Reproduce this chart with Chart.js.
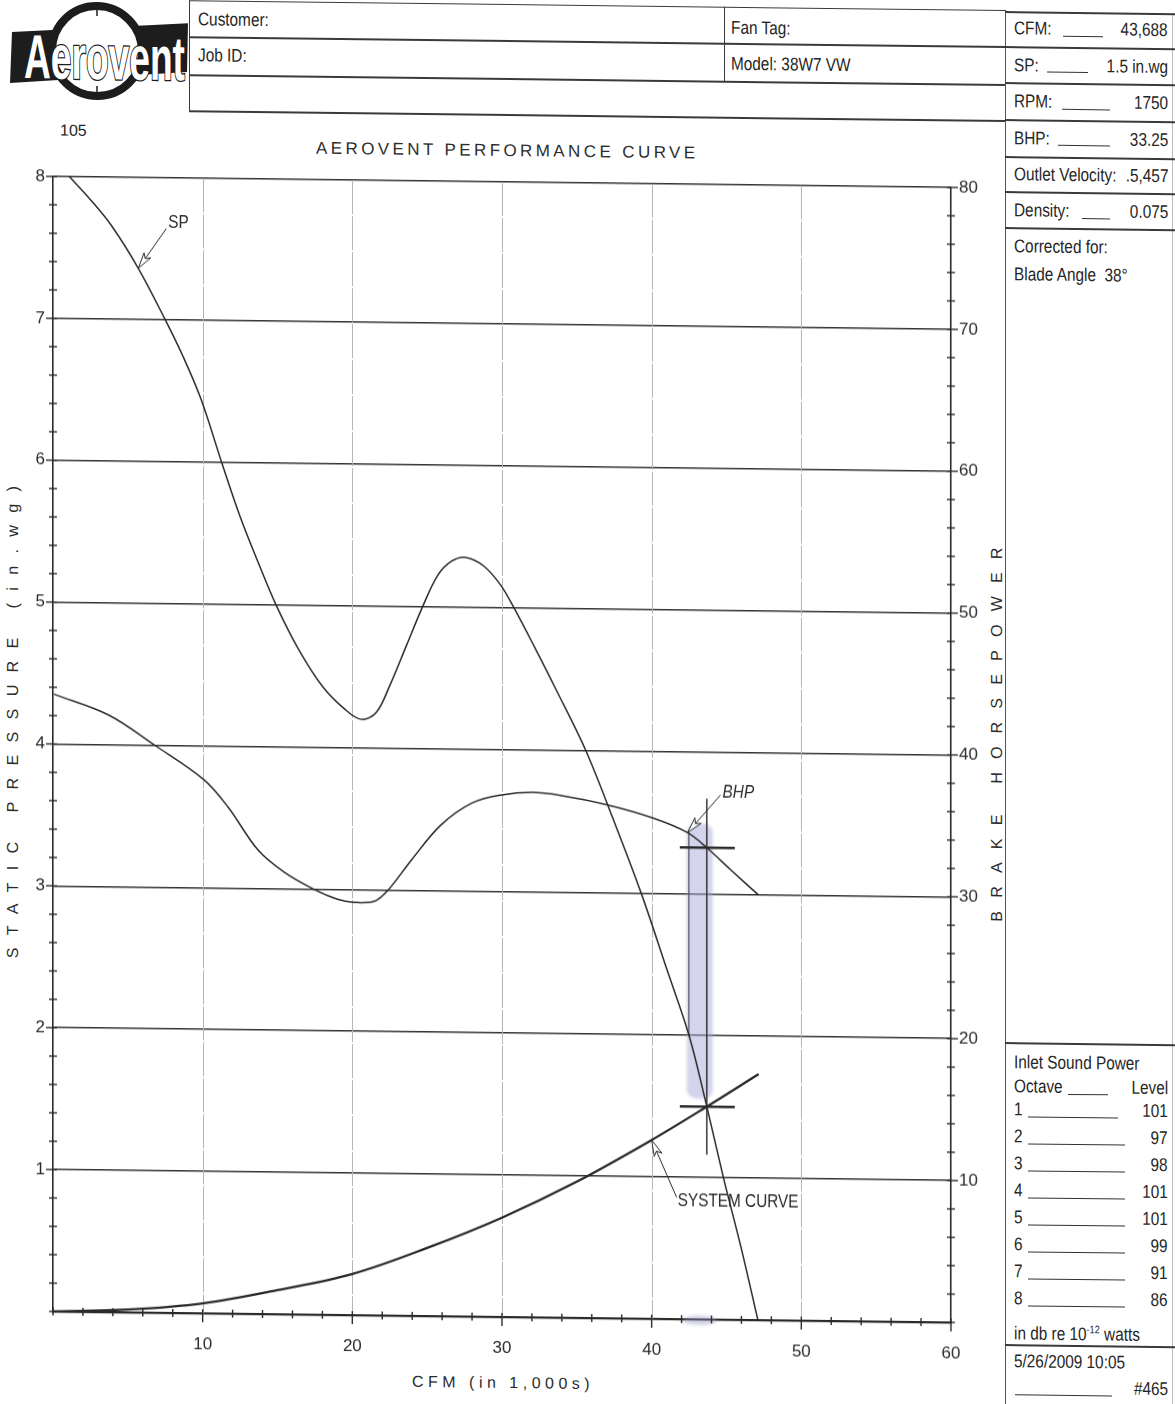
<!DOCTYPE html>
<html>
<head>
<meta charset="utf-8">
<title>Aerovent Performance Curve</title>
<script src="https://cdn.jsdelivr.net/npm/chart.js@4.4.0/dist/chart.umd.min.js"></script>
<style>
  html, body { margin: 0; padding: 0; background: #fff; }
  body {
    width: 1175px; height: 1404px; position: relative; overflow: hidden;
    font-family: "Liberation Sans", Arial, sans-serif;
    color: #262626;
  }
  /* the printed sheet sits slightly askew */
  #sheet {
    position: absolute; left: 0; top: 0; width: 1175px; height: 1404px;
    transform: skewY(0.7deg); transform-origin: 587px 0;
  }
  .ln { position: absolute; background: #3a3a3a; }
  .ul { position: absolute; height: 1.3px; background: #333; }
  /* condensed face: the sans is squeezed horizontally */
  .t {
    position: absolute; white-space: nowrap; font-size: 18.5px; line-height: 22px;
    transform: scaleX(0.83); transform-origin: 0 50%;
  }
  .t.r { transform-origin: 100% 50%; }
  #perf { position: absolute; left: 0; top: 161px; }
  .wide { position: absolute; white-space: nowrap; line-height: 22px; color: #2c2c2c; }
  .vtitle {
    position: absolute; white-space: nowrap; font-size: 16px; line-height: 18px; color: #2c2c2c;
    transform: translate(-50%, -50%) rotate(-90deg);
  }
</style>
</head>
<body>
<div id="sheet">

<!-- company mark -->
<svg width="192" height="110" style="position:absolute;left:0;top:6px">
  <polygon points="12,33 188,22 187,71 10,84" fill="#1d1d1d"/>
  <circle cx="97" cy="51" r="45" fill="#fff" stroke="#1d1d1d" stroke-width="8"/>
  <line x1="97" y1="4" x2="97" y2="16" stroke="#1d1d1d" stroke-width="1.5"/>
  <line x1="97" y1="86" x2="97" y2="98" stroke="#1d1d1d" stroke-width="1.5"/>
  <text x="24" y="79" textLength="161" lengthAdjust="spacingAndGlyphs"
        font-family="Liberation Sans, Arial, sans-serif"
        font-weight="bold" font-size="62" fill="#fff" stroke="#1d1d1d" stroke-width="2.6"
        paint-order="stroke">Aerovent</text>
</svg>
<div class="wide" style="left:60px;top:126px;font-size:16px;color:#262626;">105</div>

<!-- job header table -->
<div class="ln" style="left:189px;top:5px;width:817px;height:1.4px"></div>
<div class="ln" style="left:189px;top:41px;width:817px;height:1.6px"></div>
<div class="ln" style="left:189px;top:79px;width:817px;height:1.6px"></div>
<div class="ln" style="left:189px;top:115px;width:817px;height:1.6px"></div>
<div class="ln" style="left:189px;top:5px;width:1.4px;height:111px"></div>
<div class="ln" style="left:724px;top:5px;width:1.4px;height:75px"></div>
<div class="t" style="left:198px;top:13px;">Customer:</div>
<div class="t" style="left:198px;top:49px;">Job ID:</div>
<div class="t" style="left:731px;top:15px;">Fan Tag:</div>
<div class="t" style="left:731px;top:51px;">Model: 38W7 VW</div>

<!-- rating panel -->
<div class="ln" style="left:1005px;top:6px;width:1.4px;height:1410px;background:#555"></div>
<div class="ln" style="left:1172px;top:6px;width:1px;height:1410px;background:#bbb"></div>
<div class="ln" style="left:1005px;top:6px;width:170px;height:1.5px"></div>
<div class="ln" style="left:1005px;top:41px;width:170px;height:1.6px"></div>
<div class="ln" style="left:1005px;top:77px;width:170px;height:1.6px"></div>
<div class="ln" style="left:1005px;top:114px;width:170px;height:1.6px"></div>
<div class="ln" style="left:1005px;top:151px;width:170px;height:1.6px"></div>
<div class="ln" style="left:1005px;top:186px;width:170px;height:1.6px"></div>
<div class="ln" style="left:1005px;top:222px;width:170px;height:1.6px"></div>
<div class="ln" style="left:1005px;top:1037px;width:170px;height:1.6px"></div>
<div class="ln" style="left:1005px;top:1339px;width:170px;height:1.6px"></div>

<div class="t" style="left:1014px;top:12px;">CFM:</div>
<div class="ul" style="left:1063px;top:30px;width:40px"></div>
<div class="t r" style="right:7px;top:12px;">43,688</div>
<div class="t" style="left:1014px;top:49px;">SP:</div>
<div class="ul" style="left:1047px;top:66px;width:41px"></div>
<div class="t r" style="right:7px;top:49px;">1.5 in.wg</div>
<div class="t" style="left:1014px;top:85px;">RPM:</div>
<div class="ul" style="left:1062px;top:103px;width:48px"></div>
<div class="t r" style="right:7px;top:85px;">1750</div>
<div class="t" style="left:1014px;top:122px;">BHP:</div>
<div class="ul" style="left:1058px;top:139px;width:52px"></div>
<div class="t r" style="right:7px;top:122px;">33.25</div>
<div class="t" style="left:1014px;top:158px;">Outlet Velocity:</div>
<div class="t r" style="right:7px;top:158px;">.5,457</div>
<div class="t" style="left:1014px;top:194px;">Density:</div>
<div class="ul" style="left:1082px;top:212px;width:28px"></div>
<div class="t r" style="right:7px;top:194px;">0.075</div>
<div class="t" style="left:1014px;top:230px;">Corrected for:</div>
<div class="t" style="left:1014px;top:258px;">Blade Angle&nbsp; 38°</div>

<div class="t" style="left:1014px;top:1046px;">Inlet Sound Power</div>
<div class="t" style="left:1014px;top:1070px;">Octave</div>
<div class="ul" style="left:1068px;top:1088px;width:40px"></div>
<div class="t r" style="right:7px;top:1070px;">Level</div>
<div id="octaves"></div>
<div class="t" style="left:1014px;top:1312px;">in db re 10<sup style="font-size:11px">-12</sup> watts</div>
<div class="t" style="left:1014px;top:1345px;">5/26/2009 10:05</div>
<div class="ul" style="left:1015px;top:1389px;width:97px"></div>
<div class="t r" style="right:7px;top:1371px;">#465</div>

<!-- chart titles -->
<div class="wide" style="left:316px;top:141px;font-size:17px;letter-spacing:3.4px;">AEROVENT PERFORMANCE CURVE</div>
<div class="vtitle" style="left:13px;top:723px;letter-spacing:12.4px;">STATIC PRESSURE (in.wg)</div>
<div class="vtitle" style="left:997px;top:723px;letter-spacing:13.2px;">BRAKE HORSEPOWER</div>
<div class="wide" style="left:412px;top:1373px;font-size:16px;letter-spacing:4.5px;">CFM (in 1,000s)</div>

<canvas id="perf" width="1005" height="1244"></canvas>
</div>

<script>
// ---- axis labelling ----
const cfmTickLabels = [10, 20, 30, 40, 50, 60];          // CFM in 1,000s
const pressureTickLabels = [1, 2, 3, 4, 5, 6, 7, 8];     // in.wg
const powerTickLabels = [10, 20, 30, 40, 50, 60, 70, 80]; // hp
const cfmGridLines = [10, 20, 30, 40, 50];

// ---- selected duty point ----
const dutyCfm = 43.688;
const dutySp = 1.5;
const dutyBhp = 33.25;

// ---- static pressure curve (CFM x1000, in.wg) ----
const spCfm = [1.1, 2.5, 3.9, 5.7, 7.5, 8.7, 9.9, 11.3, 12.5, 13.7, 14.9, 16.4, 18.0, 19.5, 20.6,
               21.6, 22.5, 23.6, 24.7, 25.7, 26.6, 27.6, 28.8, 29.9, 30.8, 32.2, 33.6, 35.6, 37.5,
               39.3, 41.0, 42.5, dutyCfm, 44.8, 46.0, 47.1];
const spPressure = [8.0, 7.84, 7.66, 7.36, 7.0, 6.74, 6.44, 5.99, 5.62, 5.3, 5.0, 4.69, 4.43, 4.27, 4.2,
                    4.25, 4.44, 4.72, 5.0, 5.22, 5.32, 5.35, 5.29, 5.16, 5.0, 4.72, 4.43, 4.0, 3.5,
                    3.0, 2.47, 2.0, dutySp, 1.0, 0.5, 0.0];

// ---- brake horsepower curve (CFM x1000, hp) ----
const bhpCfm = [0.1, 3.7, 6.8, 10.1, 11.7, 13.7, 15.4, 17.4, 19.0, 20.1, 21.5, 22.4, 24.0, 25.9,
                28.0, 30.0, 32.0, 34.0, 37.0, 40.1, 42.4, dutyCfm, 45.3, 47.1];
const bhpPower = [43.5, 42.1, 40.0, 37.6, 35.7, 32.7, 31.2, 30.0, 29.3, 29.1, 29.2, 30.0, 32.2, 34.6,
                  36.2, 36.8, 37.0, 36.8, 36.2, 35.3, 34.3, dutyBhp, 31.7, 30.0];

// ---- system resistance curve (CFM x1000, in.wg) ----
const sysCfm = [0, 5, 10, 15, 20, 25, 30, 35, 40, dutyCfm, 47.1];
const sysPressure = [0, 0.02, 0.07, 0.17, 0.29, 0.48, 0.70, 0.96, 1.26, dutySp, 1.73];

// ---- callouts: which curve, which point on it ----
const calloutText = ['SP', 'BHP', 'SYSTEM CURVE'];
const calloutCurve = ['sp', 'bhp', 'sys'];
const calloutCfm = [5.7, 42.4, 40];

// ---- inlet sound power ----
const octaveBands = [1, 2, 3, 4, 5, 6, 7, 8];
const octaveLevels = [101, 97, 98, 101, 101, 99, 91, 86];

const INK = '#2a2a2a';
const SANS = '"Liberation Sans", Arial, sans-serif';

const zip = (xs, ys) => xs.map((x, i) => ({ x, y: ys[i] }));
const curves = {
  sp:  { pts: zip(spCfm, spPressure), axis: 'sp' },
  bhp: { pts: zip(bhpCfm, bhpPower), axis: 'hp' },
  sys: { pts: zip(sysCfm, sysPressure), axis: 'sp' }
};

(function () {
  const host = document.getElementById('octaves');
  octaveBands.forEach((b, i) => {
    const top = 1093 + i * 27;
    host.insertAdjacentHTML('beforeend',
      `<div class="t" style="left:1014px;top:${top}px;">${b}</div>` +
      `<div class="ul" style="left:1028px;top:${top + 18}px;width:${i === 0 ? 90 : 97}px"></div>` +
      `<div class="t r" style="right:7px;top:${top}px;">${octaveLevels[i]}</div>`);
  });
})();

const isNear = (v, list) => list.some(t => Math.abs(t - v) < 1e-6);

function hollowArrow(ctx, tx, ty, fx, fy) {
  const ang = Math.atan2(ty - fy, tx - fx);
  const len = 16, half = 4.2;
  const cx = Math.cos(ang), cy = Math.sin(ang);
  const bx = tx - cx * len, by = ty - cy * len;
  const nx = -cy, ny = cx;
  ctx.beginPath();
  ctx.moveTo(fx, fy);
  ctx.lineTo(bx + cx * 4, by + cy * 4);
  ctx.stroke();
  ctx.beginPath();
  ctx.moveTo(tx, ty);
  ctx.lineTo(bx + nx * half, by + ny * half);
  ctx.lineTo(bx + cx * 4, by + cy * 4);
  ctx.lineTo(bx - nx * half, by - ny * half);
  ctx.closePath();
  ctx.fillStyle = '#fff';
  ctx.fill();
  ctx.stroke();
}

function narrowText(ctx, text, x, y, font) {
  ctx.save();
  ctx.font = font;
  ctx.textAlign = 'left';
  ctx.textBaseline = 'middle';
  ctx.translate(x, y);
  ctx.scale(0.83, 1);
  ctx.fillText(text, 0, 0);
  ctx.restore();
}

const paperMarks = {
  id: 'paperMarks',
  beforeDatasetsDraw(chart) {
    const { ctx, chartArea: a, scales } = chart;
    const px = scales.x.getPixelForValue(dutyCfm);
    const yB = scales.hp.getPixelForValue(dutyBhp);
    const yS = scales.sp.getPixelForValue(dutySp);
    ctx.save();
    // light, faintly broken CFM grid lines
    ctx.strokeStyle = '#b4b4b4';
    ctx.lineWidth = 1;
    ctx.setLineDash([34, 2]);
    cfmGridLines.forEach(v => {
      const gx = Math.round(scales.x.getPixelForValue(v)) + 0.5;
      ctx.beginPath();
      ctx.moveTo(gx, a.top);
      ctx.lineTo(gx, a.bottom);
      ctx.stroke();
    });
    ctx.setLineDash([]);
    // highlighted duty band
    ctx.filter = 'blur(1.8px)';
    ctx.fillStyle = 'rgba(165,165,215,0.48)';
    ctx.beginPath();
    if (ctx.roundRect) ctx.roundRect(px - 20, yB - 24, 26, yS - yB + 16, 9);
    else ctx.rect(px - 20, yB - 24, 26, yS - yB + 16);
    ctx.fill();
    // smudge on the base line
    ctx.fillStyle = 'rgba(150,150,200,0.4)';
    ctx.beginPath();
    ctx.ellipse(px - 7, scales.sp.bottom + 1, 17, 5, 0, 0, Math.PI * 2);
    ctx.fill();
    ctx.filter = 'none';
    ctx.strokeStyle = 'rgba(70,70,90,0.75)';
    ctx.lineWidth = 1.5;
    ctx.beginPath();
    ctx.moveTo(px - 18, yB - 16);
    ctx.lineTo(px - 18, yS - 70);
    ctx.stroke();
    ctx.restore();
  },
  afterDatasetsDraw(chart) {
    const { ctx, chartArea: a, scales } = chart;
    const { x, sp, hp } = scales;
    ctx.save();
    ctx.strokeStyle = INK;
    ctx.lineCap = 'butt';

    // tick crosses on the left (pressure) axis
    ctx.lineWidth = 1.4;
    sp.ticks.forEach(t => {
      const y = sp.getPixelForValue(t.value);
      const major = isNear(t.value, pressureTickLabels);
      ctx.beginPath();
      ctx.moveTo(a.left - (major ? 7 : 4), y);
      ctx.lineTo(a.left + 4, y);
      ctx.stroke();
    });
    // tick crosses on the right (horsepower) axis
    hp.ticks.forEach(t => {
      const y = hp.getPixelForValue(t.value);
      const major = isNear(t.value, powerTickLabels);
      ctx.beginPath();
      ctx.moveTo(a.right - 4, y);
      ctx.lineTo(a.right + (major ? 7 : 4), y);
      ctx.stroke();
    });
    // tick crosses on the CFM axis
    x.ticks.forEach(t => {
      const xp = x.getPixelForValue(t.value);
      const major = isNear(t.value, cfmTickLabels);
      ctx.beginPath();
      ctx.moveTo(xp, a.bottom - 4);
      ctx.lineTo(xp, a.bottom + (major ? 9 : 4));
      ctx.stroke();
    });

    // duty point cross-hairs
    const px = x.getPixelForValue(dutyCfm);
    const yB = hp.getPixelForValue(dutyBhp);
    const yS = sp.getPixelForValue(dutySp);
    ctx.lineWidth = 1.4;
    ctx.beginPath();
    ctx.moveTo(px, yB - 49);
    ctx.lineTo(px, yS + 48);
    ctx.stroke();
    ctx.lineWidth = 2.6;
    ctx.beginPath();
    ctx.moveTo(px - 27, yB); ctx.lineTo(px + 28, yB);
    ctx.moveTo(px - 27, yS); ctx.lineTo(px + 28, yS);
    ctx.stroke();

    // curve callouts
    const offsets = [[28, -40, 30, -46], [33, -38, 35, -41], [25, 57, 26, 61]];
    calloutText.forEach((label, i) => {
      const c = curves[calloutCurve[i]];
      const p = c.pts.find(q => Math.abs(q.x - calloutCfm[i]) < 1e-6);
      const tx = x.getPixelForValue(p.x);
      const ty = scales[c.axis].getPixelForValue(p.y);
      const o = offsets[i];
      ctx.lineWidth = 1;
      ctx.strokeStyle = INK;
      hollowArrow(ctx, tx, ty, tx + o[0], ty + o[1]);
      ctx.fillStyle = INK;
      narrowText(ctx, label, tx + o[2], ty + o[3],
                 (label === 'BHP' ? 'italic ' : '') + '18.5px ' + SANS);
    });
    ctx.restore();
  }
};

const lineStyle = {
  borderColor: INK, pointRadius: 0, fill: false, tension: 0.35,
  borderCapStyle: 'round', borderJoinStyle: 'round'
};

new Chart(document.getElementById('perf'), {
  type: 'line',
  data: {
    datasets: [
      Object.assign({ label: 'SP', data: curves.sp.pts, yAxisID: 'sp', borderWidth: 1.5 }, lineStyle),
      Object.assign({ label: 'BHP', data: curves.bhp.pts, yAxisID: 'hp', borderWidth: 1.5 }, lineStyle),
      Object.assign({ label: 'System Curve', data: curves.sys.pts, yAxisID: 'sp', borderWidth: 2.3 }, lineStyle)
    ]
  },
  options: {
    responsive: false,
    animation: false,
    events: [],
    parsing: false,
    layout: { padding: { top: 22, left: 0, right: 0, bottom: 0 } },
    plugins: { legend: { display: false }, tooltip: { enabled: false }, title: { display: false } },
    scales: {
      x: {
        type: 'linear', min: 0, max: 60,
        ticks: {
          stepSize: 2, autoSkip: false, maxRotation: 0, padding: 21,
          color: INK, font: { family: SANS, size: 17 },
          callback: v => isNear(v, cfmTickLabels) ? String(Math.round(v)) : ''
        },
        grid: { display: false, drawTicks: false },
        border: { display: true, color: INK, width: 2.2 },
        afterFit: s => { s.height = 87; }
      },
      sp: {
        type: 'linear', position: 'left', min: 0, max: 8,
        ticks: {
          stepSize: 0.2, autoSkip: false, padding: 8,
          color: INK, font: { family: SANS, size: 17 },
          callback: v => isNear(v, pressureTickLabels) ? String(Math.round(v)) : ''
        },
        grid: {
          drawTicks: false, lineWidth: 1.6,
          color: c => (c.tick && isNear(c.tick.value, pressureTickLabels)) ? '#333' : 'rgba(0,0,0,0)'
        },
        border: { display: true, color: INK, width: 1.6 },
        afterFit: s => { s.width = 53; }
      },
      hp: {
        type: 'linear', position: 'right', min: 0, max: 80,
        ticks: {
          stepSize: 2, autoSkip: false, padding: 8,
          color: INK, font: { family: SANS, size: 17 },
          callback: v => isNear(v, powerTickLabels) ? String(Math.round(v)) : ''
        },
        grid: { drawTicks: false, drawOnChartArea: false },
        border: { display: true, color: INK, width: 1.6 },
        afterFit: s => { s.width = 54; }
      }
    }
  },
  plugins: [paperMarks]
});
</script>
</body>
</html>
